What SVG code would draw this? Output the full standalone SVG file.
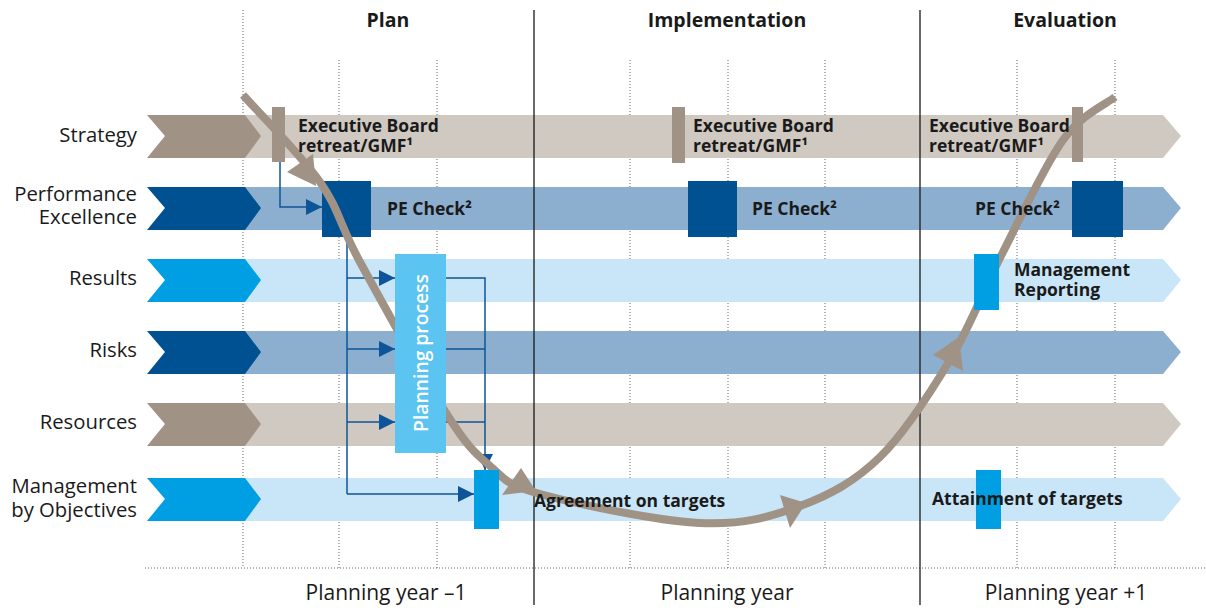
<svg xmlns="http://www.w3.org/2000/svg" width="1206" height="608" viewBox="0 0 1206 608">
<style>
  text { font-family: "Open Sans", "Noto Sans", "Liberation Sans", sans-serif; fill: #1a1a1a; }
  .lbl { font-size: 20.3px; text-anchor: end; }
  .hdr { font-size: 19.5px; font-weight: bold; text-anchor: middle; }
  .yr { font-size: 21px; text-anchor: middle; }
  .b { font-size: 17.5px; font-weight: bold; }
  .dot { stroke: #666; stroke-width: 1; stroke-dasharray: 1 2; fill: none; }
  .solid { stroke: #1a1a1a; stroke-width: 1.3; fill: none; }
  .conn { stroke: #0d5598; stroke-width: 1.5; fill: none; }
  .gD { fill: #a09386; } .gL { fill: #cfc9c2; }
  .bD { fill: #005192; } .bL { fill: #8cafcf; }
  .cD { fill: #009fe3; } .cL { fill: #c8e6f8; }
  .curve { stroke: #a09386; stroke-width: 8; fill: none; }
  .ah { fill: #a09386; }
</style>
<defs>
  <marker id="arr" viewBox="0 0 16 16" refX="16" refY="8" markerWidth="16" markerHeight="16" markerUnits="userSpaceOnUse" orient="auto">
    <path d="M0,0 L16,8 L0,16 Z" fill="#0d5598"/>
  </marker>
</defs>

<!-- dotted grid -->
<g id="grid">
  <line class="dot" x1="243" y1="10" x2="243" y2="568"/>
  <line class="dot" x1="339" y1="60" x2="339" y2="568"/>
  <line class="dot" x1="437" y1="60" x2="437" y2="568"/>
  <line class="dot" x1="630" y1="60" x2="630" y2="568"/>
  <line class="dot" x1="728" y1="60" x2="728" y2="568"/>
  <line class="dot" x1="825" y1="60" x2="825" y2="568"/>
  <line class="dot" x1="1017" y1="60" x2="1017" y2="568"/>
  <line class="dot" x1="1115" y1="60" x2="1115" y2="568"/>
  <line class="dot" x1="145" y1="568" x2="1206" y2="568"/>
</g>

<!-- bands -->
<g id="row-strategy">
  <polygon class="gL" points="243,115 1163,115 1181,136 1163,158 243,158"/>
  <polygon class="gD" points="147,115 245,115 261,136 245,158 147,158 165,136"/>
  <text class="lbl" x="137" y="142">Strategy</text>
</g>
<g id="row-pe">
  <polygon class="bL" points="243,187 1163,187 1181,208 1163,230 243,230"/>
  <polygon class="bD" points="147,187 245,187 261,208 245,230 147,230 165,208"/>
  <text class="lbl" x="137" y="201">Performance</text>
  <text class="lbl" x="137" y="224">Excellence</text>
</g>
<g id="row-results">
  <polygon class="cL" points="243,259 1163,259 1181,280 1163,302 243,302"/>
  <polygon class="cD" points="147,259 245,259 261,280 245,302 147,302 165,280"/>
  <text class="lbl" x="137" y="285">Results</text>
</g>
<g id="row-risks">
  <polygon class="bL" points="243,331 1163,331 1181,352 1163,374 243,374"/>
  <polygon class="bD" points="147,331 245,331 261,352 245,374 147,374 165,352"/>
  <text class="lbl" x="137" y="357">Risks</text>
</g>
<g id="row-resources">
  <polygon class="gL" points="243,403 1163,403 1181,424 1163,446 243,446"/>
  <polygon class="gD" points="147,403 245,403 261,424 245,446 147,446 165,424"/>
  <text class="lbl" x="137" y="429">Resources</text>
</g>
<g id="row-mbo">
  <polygon class="cL" points="243,478 1163,478 1181,499 1163,521 243,521"/>
  <polygon class="cD" points="147,478 245,478 261,499 245,521 147,521 165,499"/>
  <text class="lbl" x="137" y="493">Management</text>
  <text class="lbl" x="137" y="517">by Objectives</text>
</g>

<!-- phase separators -->
<g id="phases">
  <line class="solid" x1="534" y1="10" x2="534" y2="605"/>
  <line class="solid" x1="920" y1="10" x2="920" y2="605"/>
  <text class="hdr" x="388" y="27">Plan</text>
  <text class="hdr" x="727" y="27">Implementation</text>
  <text class="hdr" x="1065" y="27">Evaluation</text>
  <text class="yr" x="386" y="600">Planning year –1</text>
  <text class="yr" x="727" y="600">Planning year</text>
  <text class="yr" x="1066" y="600">Planning year +1</text>
</g>

<!-- PE squares and strategy markers (below cycle curve) -->
<g id="pe-check-1"><rect class="bD" x="322" y="181" width="49" height="56"/></g>
<g id="pe-check-2"><rect class="bD" x="688" y="181" width="49" height="56"/></g>
<g id="pe-check-3"><rect class="bD" x="1072" y="181" width="51" height="56"/></g>
<g id="exec-1"><rect class="gD" x="272" y="107" width="13" height="55"/></g>
<g id="exec-2"><rect class="gD" x="672" y="107" width="13" height="56"/></g>
<g id="exec-3"><rect class="gD" x="1072" y="107" width="11" height="55"/></g>

<!-- connectors -->
<g id="connectors">
  <path class="conn" d="M280,162 V207 H322" marker-end="url(#arr)"/>
  <path class="conn" d="M347,237 V494"/>
  <path class="conn" d="M347,278 H395" marker-end="url(#arr)"/>
  <path class="conn" d="M347,349 H395" marker-end="url(#arr)"/>
  <path class="conn" d="M347,422 H395" marker-end="url(#arr)"/>
  <path class="conn" d="M347,494 H474" marker-end="url(#arr)"/>
  <path class="conn" d="M446,278 H485 V470" marker-end="url(#arr)"/>
  <path class="conn" d="M446,349 H485"/>
  <path class="conn" d="M446,422 H485"/>
</g>

<!-- management cycle curve -->
<g id="cycle">
  <path class="curve" d="M243,95 C255.8,109.5 300.5,154.2 320,182 C339.5,209.8 339,223.5 360,262 C381,300.5 424.3,379 446,413 C467.7,447 474.3,452.5 490,466 C505.7,479.5 505,484.5 540,494 C575,503.5 656.7,521 700,523 C743.3,525 770,517 800,506 C830,495 855,481.3 880,457 C905,432.7 929.7,393.8 950,360 C970.3,326.2 983.2,290.7 1002,254 C1020.8,217.3 1044.2,166.2 1063,140 C1081.8,113.8 1106.3,104.2 1115,97"/>
  <polygon class="ah" points="287,172 313,154 316,186"/>
  <polygon class="ah" points="521,468 502,495 536,491"/>
  <polygon class="ah" points="780,495 790,528 806,503"/>
  <polygon class="ah" points="933,355 963,371 959,337"/>
</g>

<!-- planning process box -->
<g id="planning-process">
  <rect x="395" y="254" width="51" height="199" fill="#5bc4f1"/>
  <text x="421" y="353" transform="rotate(-90 421 353)" text-anchor="middle" dy="7" style="font-size:19.3px; fill:#ffffff; font-weight:600;">Planning process</text>
</g>

<!-- markers above curve -->
<g id="mgmt-reporting"><rect class="cD" x="974" y="254" width="25" height="56"/></g>
<g id="mbo-1"><rect class="cD" x="474" y="470" width="25" height="59"/></g>
<g id="mbo-2"><rect class="cD" x="976" y="470" width="25" height="59"/></g>

<!-- labels -->
<g id="labels">
  <text class="b" x="298" y="132">Executive Board</text>
  <text class="b" x="298" y="152">retreat/GMF¹</text>
  <text class="b" x="693" y="132">Executive Board</text>
  <text class="b" x="693" y="152">retreat/GMF¹</text>
  <text class="b" x="929" y="132">Executive Board</text>
  <text class="b" x="929" y="152">retreat/GMF¹</text>
  <text class="b" x="387" y="215">PE Check²</text>
  <text class="b" x="752" y="215">PE Check²</text>
  <text class="b" x="975" y="215">PE Check²</text>
  <text class="b" x="1014" y="276">Management</text>
  <text class="b" x="1014" y="296">Reporting</text>
  <text class="b" x="534" y="507">Agreement on targets</text>
  <text class="b" x="932" y="505">Attainment of targets</text>
</g>
</svg>
